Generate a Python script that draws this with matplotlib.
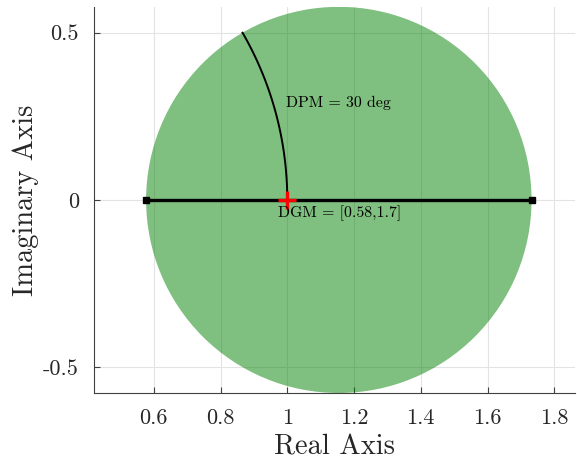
import numpy as np
import matplotlib
matplotlib.use("Agg")
import matplotlib.pyplot as plt
from matplotlib.patches import Circle

plt.rcParams['font.family'] = ['cmr10', 'DejaVu Serif']
plt.rcParams['mathtext.fontset'] = 'cm'
plt.rcParams['axes.unicode_minus'] = False

# disk margin values
gm_low = 0.577
gm_high = 1.732
dpm_deg = 30
gm_text = "DGM = [0.58,1.7]"
pm_text = "DPM = 30 deg"

xticks = [0.6, 0.8, 1.0, 1.2, 1.4, 1.6, 1.8]
xtick_labels = ["0.6", "0.8", "1", "1.2", "1.4", "1.6", "1.8"]
yticks = [-0.5, 0, 0.5]
ytick_labels = ["-0.5", "0", "0.5"]

center = (gm_low + gm_high) / 2
radius = (gm_high - gm_low) / 2

fig = plt.figure(figsize=(5.77, 4.66), dpi=100)
ax = fig.add_axes([0.163, 0.157, 0.834, 0.828])

ax.grid(True, color='#e3e3e3', linewidth=0.8, zorder=0)
ax.set_axisbelow(True)

disk = Circle((center, 0), radius, facecolor=(0, 0.5, 0), alpha=0.5,
              edgecolor='none', zorder=1)
ax.add_patch(disk)

# phase margin arc on unit circle
th = np.linspace(0, np.deg2rad(dpm_deg), 100)
ax.plot(np.cos(th), np.sin(th), color='k', linewidth=1.4, zorder=3)

# gain margin segment
ax.plot([gm_low, gm_high], [0, 0], color='k', linewidth=2.4,
        marker='s', markersize=4, zorder=3)
ax.plot([1], [0], marker='+', color='red', markersize=13,
        markeredgewidth=2.4, zorder=4)

ax.text(0.996, 0.29, pm_text, fontsize=11.4, va='center', ha='left', zorder=5)
ax.text(0.972, -0.04, gm_text, fontsize=11.4, va='center', ha='left', zorder=5)

ax.set_xlim(0.421, 1.863)
ax.set_ylim(-0.577, 0.577)
ax.set_xticks(xticks)
ax.set_xticklabels(xtick_labels)
ax.set_yticks(yticks)
ax.set_yticklabels(ytick_labels)

for s in ['top', 'right']:
    ax.spines[s].set_visible(False)
for s in ['left', 'bottom']:
    ax.spines[s].set_color('#404040')
    ax.spines[s].set_linewidth(0.8)

ax.tick_params(direction='in', length=4, width=0.8, colors='#404040',
               labelsize=16, labelcolor='#262626', pad=11)

ax.set_xlabel("Real Axis", fontsize=20.5, color='#262626', labelpad=5)
ax.set_ylabel("Imaginary Axis", fontsize=20.5, color='#262626', labelpad=3)

fig.savefig("out.png", dpi=100)
